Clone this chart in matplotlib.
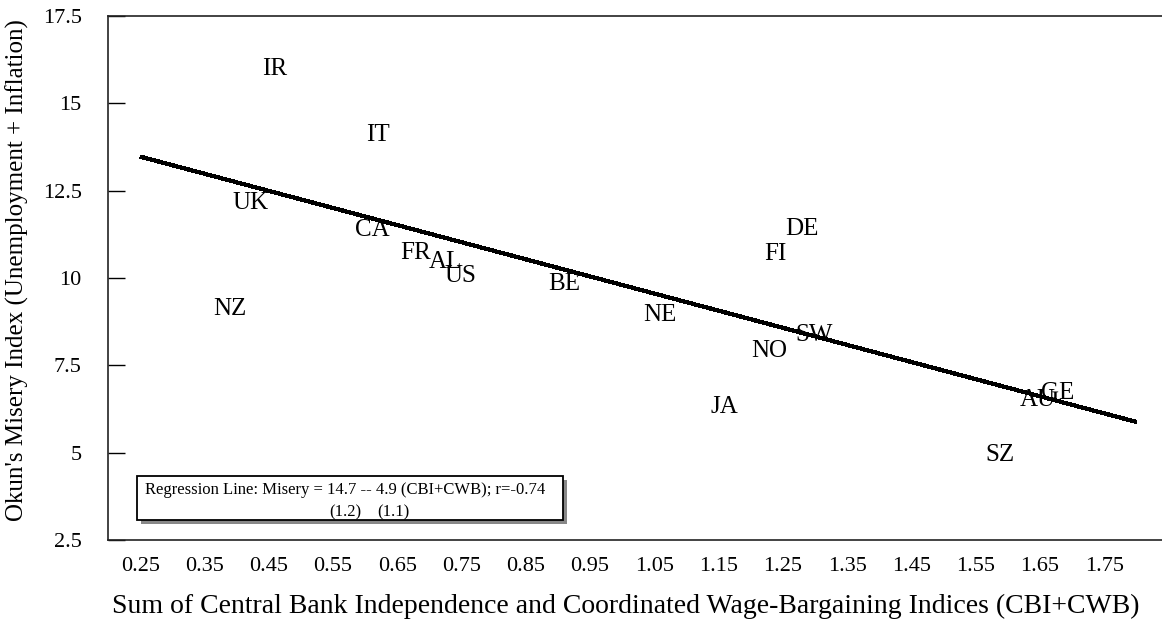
import matplotlib.pyplot as plt
from matplotlib.patches import Rectangle

plt.rcParams['font.family'] = ['Liberation Serif', 'DejaVu Serif']

# country codes and positions
countries = ['IR', 'IT', 'UK', 'CA', 'FR', 'AL', 'US', 'BE', 'NZ', 'NE',
             'DE', 'FI', 'SW', 'NO', 'JA', 'SZ', 'AU', 'GE']
cbi_cwb = [0.460, 0.620, 0.421, 0.611, 0.678, 0.725, 0.748, 0.910, 0.390, 1.058,
           1.280, 1.238, 1.299, 1.229, 1.159, 1.588, 1.647, 1.678]
misery = [15.99, 14.10, 12.15, 11.38, 10.72, 10.46, 10.06, 9.83, 9.12, 8.95,
          11.41, 10.69, 8.37, 7.91, 6.31, 4.94, 6.51, 6.71]

# regression line: Misery = 14.7 - 4.9 (CBI+CWB)
intercept, slope = 14.7, -4.9
line_x = [0.25, 1.8]

xticks = [0.25, 0.35, 0.45, 0.55, 0.65, 0.75, 0.85, 0.95, 1.05, 1.15,
          1.25, 1.35, 1.45, 1.55, 1.65, 1.75]
yticks = [2.5, 5, 7.5, 10, 12.5, 15, 17.5]
ytick_labels = ['2.5', '5', '7.5', '10', '12.5', '15', '17.5']

W, H = 1162, 624
fig = plt.figure(figsize=(W / 100, H / 100), dpi=100)
ax = fig.add_axes([108 / W, 84 / H, 1.65 * 642.7 / W, 524 / H])

ax.plot(line_x, [intercept + slope * v for v in line_x], color='black',
        lw=2.3, antialiased=False, solid_capstyle='butt')

for c, xv, yv in zip(countries, cbi_cwb, misery):
    ax.text(xv, yv, c, fontsize=18, ha='center', va='center')

ax.set_xlim(0.20, 1.85)
ax.set_ylim(2.5, 17.5)
ax.set_xticks(xticks)
ax.set_xticklabels([f'{v:.2f}' for v in xticks])
ax.set_yticks(yticks)
ax.set_yticklabels(ytick_labels)
ax.tick_params(axis='x', length=0, pad=12, labelsize=16)
ax.tick_params(axis='y', direction='in', length=12, width=1, pad=19, labelsize=16)
ax.spines['right'].set_visible(False)
for s in ['left', 'top', 'bottom']:
    ax.spines[s].set_color('#222222')
    ax.spines[s].set_linewidth(1.2)

fig.text(17 / W, 1 - 270 / H, "Okun's Misery Index (Unemployment + Inflation)",
         rotation=90, ha='center', va='center', fontsize=18)
fig.text(626 / W, 1 - 606 / H,
         'Sum of Central Bank Independence and Coordinated Wage-Bargaining Indices (CBI+CWB)',
         ha='center', va='center', fontsize=20)

# regression note box with shadow
bx0, bx1, by0, by1 = 137, 563, 476, 520
fig.add_artist(Rectangle(((bx0 + 4) / W, 1 - (by1 + 4) / H), (bx1 - bx0) / W,
                         (by1 - by0) / H, transform=fig.transFigure,
                         facecolor='#888888', edgecolor='none'))
fig.add_artist(Rectangle((bx0 / W, 1 - by1 / H), (bx1 - bx0) / W, (by1 - by0) / H,
                         transform=fig.transFigure, facecolor='white',
                         edgecolor='black', lw=1.3))
fig.text(145 / W, 1 - 490 / H,
         'Regression Line: Misery = 14.7 -- 4.9 (CBI+CWB); r=-0.74',
         ha='left', va='center', fontsize=12)
fig.text(345 / W, 1 - 512 / H, '(1.2)', ha='center', va='center', fontsize=12)
fig.text(393 / W, 1 - 512 / H, '(1.1)', ha='center', va='center', fontsize=12)

fig.savefig('out.png', dpi=100)
